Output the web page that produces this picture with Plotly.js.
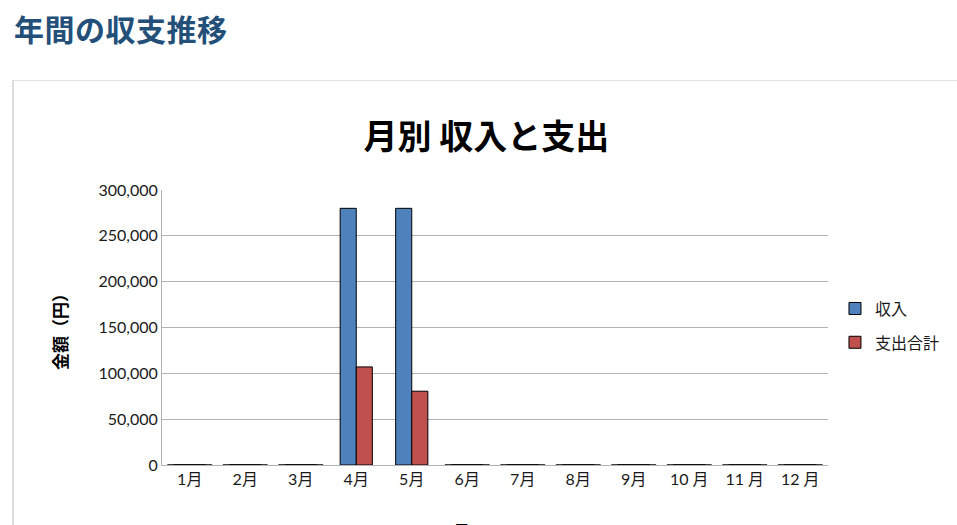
<!DOCTYPE html>
<html>
<head>
<meta charset="utf-8">
<script src="https://cdn.plot.ly/plotly-3.0.1.min.js"></script>
<style>
  html, body { margin: 0; padding: 0; background: #fff; }
  body { width: 957px; height: 525px; position: relative; overflow: hidden; }
  h2 {
    position: absolute; left: 14px; top: 6px; margin: 0;
    font-family: "Noto Sans CJK JP", sans-serif; font-weight: bold;
    font-size: 30px; color: #234f79; letter-spacing: 0.5px;
  }
  .box {
    position: absolute; left: 12px; top: 80px; width: 960px; height: 460px;
    border-left: 2px solid #dddddd; border-top: 1px solid #e2e2e2;
  }
  #chart { position: absolute; left: 0; top: 0; width: 957px; height: 525px; }
</style>
</head>
<body>
<h2>年間の収支推移</h2>
<div class="box"></div>
<div id="chart"></div>
<script>
// 月ごとの値
const months = ["1月", "2月", "3月", "4月", "5月", "6月", "7月", "8月", "9月", "10 月", "11 月", "12 月"];
const income = [0, 0, 0, 280000, 280000, 0, 0, 0, 0, 0, 0, 0];
const expense = [0, 0, 0, 107000, 80500, 0, 0, 0, 0, 0, 0, 0];
const yTicks = [0, 50000, 100000, 150000, 200000, 250000, 300000];

const FONT = 'Lato, "Noto Sans CJK JP", sans-serif';
const CJK = '"Noto Sans CJK JP", sans-serif';

// 値が0の月は基線上に線だけ出す
const zeroRow = months.map((m, i) => (income[i] === 0 && expense[i] === 0 ? 0 : null));

const traces = [
  {
    type: "bar",
    name: "収入",
    x: months,
    y: income,
    legendgroup: "a",
    marker: { color: "#4f81bd", line: { color: "#000", width: 1 } },
  },
  {
    type: "bar",
    name: "支出合計",
    x: months,
    y: expense,
    legendgroup: "b",
    marker: { color: "#c0504d", line: { color: "#000", width: 1 } },
  },
  {
    type: "scatter",
    mode: "markers",
    x: months,
    y: zeroRow,
    showlegend: false,
    cliponaxis: false,
    hoverinfo: "skip",
    marker: { symbol: "line-ew", size: 32, line: { color: "#000", width: 1.5 } },
  },
];

const layout = {
  width: 957,
  height: 525,
  paper_bgcolor: "rgba(0,0,0,0)",
  plot_bgcolor: "rgba(0,0,0,0)",
  margin: { l: 162, r: 129, t: 190, b: 60, autoexpand: false },
  barmode: "group",
  bargap: 0.42,
  bargroupgap: 0,
  showlegend: true,
  font: { family: FONT, size: 16, color: "#1a1a1a" },
  title: {
    text: "<b>月別 収入と支出</b>",
    font: { family: CJK, size: 34, color: "#000" },
    xref: "paper",
    x: 0.487,
    xanchor: "center",
    yref: "container",
    y: 0.739,
    yanchor: "middle",
  },
  xaxis: {
    type: "category",
    range: [-0.5, months.length - 0.5],
    showgrid: false,
    zeroline: false,
    showline: true,
    linecolor: "#b3b3b3",
    linewidth: 1,
    ticks: "",
    tickfont: { family: FONT, size: 16, color: "#1a1a1a" },
    automargin: false,
  },
  yaxis: {
    range: [0, 300000],
    tickvals: yTicks,
    tickformat: ",d",
    showgrid: true,
    gridcolor: "#b3b3b3",
    zeroline: false,
    showline: true,
    linecolor: "#b3b3b3",
    ticks: "",
    tickfont: { family: FONT, size: 16, color: "#1a1a1a" },
    automargin: false,
    title: {
      text: "<b>金額（円）</b>",
      font: { family: CJK, size: 17, color: "#000" },
      standoff: 26,
    },
  },
  legend: {
    xref: "container",
    x: 0.8725,
    xanchor: "left",
    y: 0.507,
    yanchor: "middle",
    traceorder: "grouped",
    tracegroupgap: 10,
    font: { family: CJK, size: 16, color: "#1a1a1a" },
    bgcolor: "rgba(0,0,0,0)",
  },
  annotations: [
    {
      text: "<b>月</b>",
      xref: "paper",
      yref: "paper",
      x: 0.449,
      y: -0.185,
      xanchor: "center",
      yanchor: "top",
      showarrow: false,
      font: { family: CJK, size: 17, color: "#000" },
    },
  ],
};

Plotly.newPlot("chart", traces, layout, { staticPlot: true, displayModeBar: false });
</script>
</body>
</html>
